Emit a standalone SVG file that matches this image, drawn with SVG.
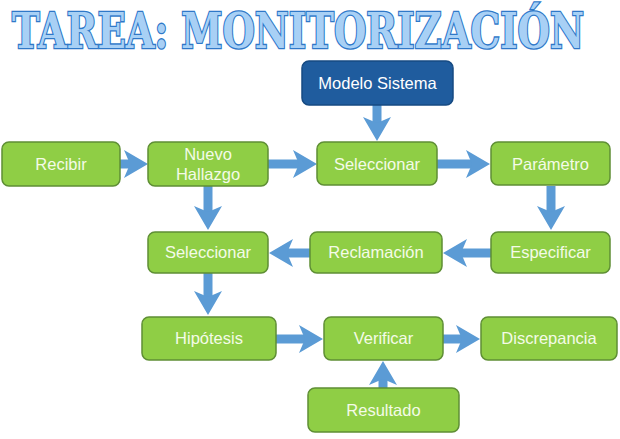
<svg xmlns="http://www.w3.org/2000/svg" width="620" height="439" viewBox="0 0 620 439">
<defs>
<style>
.box{fill:#8fce45;stroke:#5f8f35;stroke-width:1.5}
.dark{fill:#1f5c9e;stroke:#164a82;stroke-width:1.5}
.lbl{font-family:"Liberation Sans",Arial,sans-serif;font-size:16.5px;fill:#f4fbe8;text-anchor:middle}
.lblw{font-family:"Liberation Sans",Arial,sans-serif;font-size:16.5px;fill:#ffffff;text-anchor:middle}
.arr{stroke:#5b9bd5;stroke-width:9;fill:none;marker-end:url(#ah)}
.title{font-family:"DejaVu Serif",serif;font-weight:bold;font-size:36px;fill:#a8d0f5;stroke:#2f78c8;stroke-width:2;paint-order:stroke}
</style>
<marker id="ah" viewBox="0 0 24 28" refX="13" refY="14" markerWidth="24" markerHeight="28" markerUnits="userSpaceOnUse" orient="auto">
<path d="M0,0 L24,14 L0,28 L6,14 z" fill="#5b9bd5"/>
</marker>
</defs>
<rect width="620" height="439" fill="#ffffff"/>
<text class="title" transform="translate(12,48) scale(1,1.36)" x="0" y="0" textLength="572" lengthAdjust="spacingAndGlyphs">TAREA: MONITORIZACIÓN</text>
<g id="connectors">
<line class="arr" x1="120" y1="164" x2="137" y2="164"/>
<line class="arr" x1="268" y1="164" x2="306" y2="164"/>
<line class="arr" x1="437" y1="164" x2="479" y2="164"/>
<line class="arr" x1="377" y1="105" x2="377" y2="130"/>
<line class="arr" x1="551" y1="186" x2="551" y2="219"/>
<line class="arr" x1="208" y1="186" x2="208" y2="219"/>
<line class="arr" x1="491" y1="253" x2="454" y2="253"/>
<line class="arr" x1="310" y1="253" x2="280" y2="253"/>
<line class="arr" x1="208" y1="273" x2="208" y2="304"/>
<line class="arr" x1="276" y1="339" x2="312" y2="339"/>
<line class="arr" x1="443" y1="339" x2="469" y2="339"/>
<line class="arr" x1="383" y1="388" x2="383" y2="372"/>
</g>
<g id="modelo"><rect class="dark" x="302" y="61" width="151" height="44" rx="7"/><text class="lblw" x="377.5" y="89">Modelo Sistema</text></g>
<g id="recibir"><rect class="box" x="2" y="142" width="118" height="44" rx="7"/><text class="lbl" x="61" y="170">Recibir</text></g>
<g id="nuevo"><rect class="box" x="148" y="142" width="120" height="44" rx="7"/><text class="lbl" x="208" y="160">Nuevo</text><text class="lbl" x="208" y="180">Hallazgo</text></g>
<g id="seleccionar1"><rect class="box" x="317" y="142" width="120" height="43" rx="7"/><text class="lbl" x="377" y="170">Seleccionar</text></g>
<g id="parametro"><rect class="box" x="491" y="142" width="119" height="43" rx="7"/><text class="lbl" x="550.5" y="170">Parámetro</text></g>
<g id="seleccionar2"><rect class="box" x="148" y="232" width="120" height="41" rx="7"/><text class="lbl" x="208" y="258">Seleccionar</text></g>
<g id="reclamacion"><rect class="box" x="310" y="232" width="132" height="41" rx="7"/><text class="lbl" x="376" y="258">Reclamación</text></g>
<g id="especificar"><rect class="box" x="491" y="232" width="119" height="41" rx="7"/><text class="lbl" x="550.5" y="258">Especificar</text></g>
<g id="hipotesis"><rect class="box" x="142" y="317" width="134" height="43" rx="7"/><text class="lbl" x="209" y="344">Hipótesis</text></g>
<g id="verificar"><rect class="box" x="324" y="317" width="119" height="43" rx="7"/><text class="lbl" x="383.5" y="344">Verificar</text></g>
<g id="discrepancia"><rect class="box" x="481" y="317" width="136" height="43" rx="7"/><text class="lbl" x="549" y="344">Discrepancia</text></g>
<g id="resultado"><rect class="box" x="308" y="388" width="151" height="44" rx="7"/><text class="lbl" x="383.5" y="416">Resultado</text></g>
</svg>
